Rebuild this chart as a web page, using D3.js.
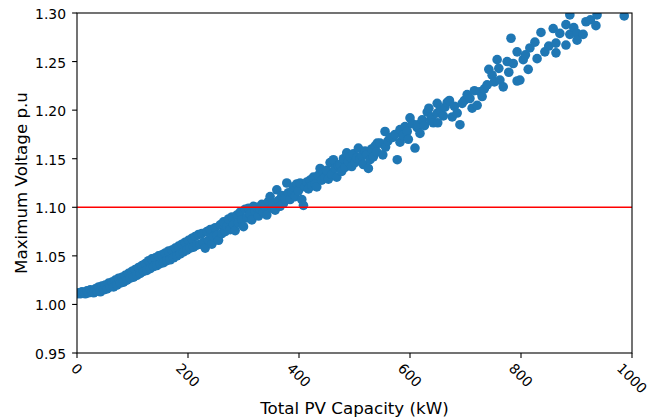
<!DOCTYPE html>
<html>
<head>
<meta charset="utf-8">
<script src="https://cdn.jsdelivr.net/npm/d3@7"></script>
<style>
  body { margin: 0; background: #fff; }
  text { font-family: "DejaVu Sans", sans-serif; fill: #000; }
</style>
</head>
<body>
<svg id="chart" width="647" height="417"></svg>
<script>
// values (kW, p.u.)
const pvCapacity = [
  0, 3, 6, 9, 12, 15, 18, 21, 24, 27, 30, 33, 36, 39, 42, 45, 48, 51, 54, 57, 60,
  63, 66, 69, 72, 75, 78, 81, 84, 87, 90, 93, 96, 99, 102, 105, 108, 111, 114, 117, 120, 123, 126, 129,
  132, 135, 138, 141, 144, 147, 150, 153, 156, 159, 162, 165, 168, 171, 174, 177, 180, 183, 186, 189,
  192, 195, 198, 201, 204, 207, 210, 213, 216, 219,
  222, 225, 228, 231, 234, 237, 240, 243, 246, 249, 252, 255, 258, 261, 264, 267, 270, 273, 276, 279,
  282, 285, 288, 291, 294, 297, 300, 303, 306,
  309, 312, 315, 318, 321, 324, 327, 330, 333, 336, 339, 342, 345, 348, 351, 354, 357, 360, 363, 366,
  369, 372, 375, 378, 381, 384, 387, 390, 393, 396, 399, 402, 405, 408, 411, 414, 417, 420, 423, 426,
  429, 432, 435, 438, 441, 444, 447, 450,
  453, 456, 459, 462, 465, 468, 471, 474, 477, 480, 483, 486, 489, 492, 495, 498, 501, 504, 507, 510,
  513, 516, 519, 522, 525, 528, 531, 534, 537, 540,
  541, 546, 551, 555, 556, 560, 564, 569, 573, 577, 582, 582, 587, 591, 595, 597, 600, 604, 609, 613,
  614, 618, 622, 626, 631, 634, 637, 640, 642, 649, 649, 650, 655, 660, 663, 667, 671, 676, 680, 685,
  690, 694, 698, 703, 708, 712, 716, 721, 726, 730, 734, 739, 742, 748, 752, 757, 760, 762, 768, 775,
  778, 782, 786, 793, 793, 798, 804, 808, 813, 816, 825, 829, 836, 843, 850, 858, 863, 863, 870, 881,
  881, 888, 888, 895, 901, 901, 912, 917, 925, 935, 937, 986
];
const maxVoltage = [
  1.011, 1.012, 1.011, 1.013, 1.012, 1.011, 1.014, 1.012, 1.015, 1.013, 1.012, 1.016, 1.014, 1.018, 1.013, 1.019, 1.015, 1.020, 1.016, 1.022, 1.018,
  1.023, 1.018, 1.025, 1.020, 1.027, 1.022, 1.028, 1.023, 1.030, 1.025, 1.032, 1.027, 1.034, 1.028, 1.036, 1.030, 1.038, 1.032, 1.040, 1.034, 1.042, 1.035, 1.045,
  1.037, 1.047, 1.039, 1.048, 1.040, 1.050, 1.042, 1.051, 1.043, 1.053, 1.045, 1.055, 1.046, 1.056, 1.048, 1.058, 1.050, 1.060, 1.052, 1.062,
  1.054, 1.064, 1.056, 1.066, 1.058, 1.068, 1.059, 1.070, 1.061, 1.072,
  1.062, 1.073, 1.064, 1.058, 1.075, 1.066, 1.077, 1.062, 1.070, 1.079, 1.071, 1.066, 1.082, 1.073, 1.085, 1.075, 1.080, 1.088, 1.077, 1.090,
  1.082, 1.076, 1.092, 1.084, 1.095, 1.087, 1.080, 1.098, 1.089,
  1.099, 1.093, 1.087, 1.101, 1.096, 1.100, 1.091, 1.098, 1.103, 1.095, 1.101, 1.092, 1.106, 1.111, 1.099, 1.104, 1.097, 1.118, 1.107, 1.101,
  1.112, 1.104, 1.109, 1.125, 1.115, 1.108, 1.115, 1.121, 1.111, 1.124, 1.117, 1.125, 1.108, 1.102, 1.121, 1.126, 1.119, 1.128, 1.122, 1.131,
  1.124, 1.121, 1.133, 1.140, 1.128, 1.136, 1.131, 1.138,
  1.129, 1.146, 1.134, 1.149, 1.140, 1.131, 1.143, 1.144, 1.137, 1.150, 1.141, 1.156, 1.147, 1.152, 1.142, 1.155, 1.146, 1.151, 1.161, 1.149,
  1.153, 1.144, 1.158, 1.154, 1.140, 1.149, 1.160, 1.152, 1.163, 1.157,
  1.166, 1.166, 1.154, 1.178, 1.162, 1.168, 1.172, 1.172, 1.175, 1.149, 1.167, 1.180, 1.174, 1.183, 1.178, 1.170, 1.192, 1.186, 1.161, 1.182,
  1.185, 1.176, 1.190, 1.184, 1.198, 1.202, 1.190, 1.193, 1.187, 1.207, 1.197, 1.187, 1.200, 1.194, 1.203, 1.208, 1.210, 1.193, 1.204, 1.197,
  1.185, 1.207, 1.210, 1.216, 1.212, 1.202, 1.220, 1.205, 1.219, 1.214, 1.222, 1.226, 1.242, 1.236, 1.229, 1.252, 1.243, 1.231, 1.224, 1.250,
  1.239, 1.274, 1.248, 1.230, 1.260, 1.231, 1.252, 1.257, 1.242, 1.264, 1.270, 1.253, 1.280, 1.260, 1.266, 1.284, 1.269, 1.259, 1.279, 1.288,
  1.267, 1.298, 1.278, 1.285, 1.279, 1.272, 1.278, 1.291, 1.293, 1.287, 1.298, 1.297
];
const xTicks = [0, 200, 400, 600, 800, 1000];
const yTicks = [0.95, 1.00, 1.05, 1.10, 1.15, 1.20, 1.25, 1.30];
const voltageLimit = 1.10;

const svg = d3.select("#chart");
const plotLeft = 77, plotRight = 632, plotTop = 13, plotBottom = 353;

const x = d3.scaleLinear().domain([0, 1000]).range([plotLeft, plotRight]);
const y = d3.scaleLinear().domain([0.95, 1.30]).range([plotBottom, plotTop]);

const points = pvCapacity.map((kw, i) => ({ kw, v: maxVoltage[i] }));

svg.append("clipPath").attr("id", "plot-clip")
  .append("rect")
  .attr("x", plotLeft).attr("y", plotTop)
  .attr("width", plotRight - plotLeft).attr("height", plotBottom - plotTop);

// scatter
svg.append("g")
  .attr("clip-path", "url(#plot-clip)")
  .selectAll("circle")
  .data(points)
  .join("circle")
  .attr("cx", d => x(d.kw))
  .attr("cy", d => y(d.v))
  .attr("r", 4.8)
  .attr("fill", "#1f77b4");

// limit line
svg.append("line")
  .attr("x1", plotLeft).attr("x2", plotRight)
  .attr("y1", y(voltageLimit)).attr("y2", y(voltageLimit))
  .attr("stroke", "#ff0000")
  .attr("stroke-width", 1.5);

// frame
svg.append("rect")
  .attr("x", plotLeft).attr("y", plotTop)
  .attr("width", plotRight - plotLeft).attr("height", plotBottom - plotTop)
  .attr("fill", "none")
  .attr("stroke", "#000")
  .attr("stroke-width", 1.1);

// y ticks
const yAxis = svg.append("g");
yTicks.forEach(t => {
  yAxis.append("line")
    .attr("x1", plotLeft - 4.9).attr("x2", plotLeft)
    .attr("y1", y(t)).attr("y2", y(t))
    .attr("stroke", "#000").attr("stroke-width", 1.1);
  yAxis.append("text")
    .text(t.toFixed(2))
    .attr("x", plotLeft - 11)
    .attr("y", y(t) + 6)
    .attr("font-size", 13.9)
    .attr("text-anchor", "end");
});

// x ticks, labels turned 45 degrees
const xAxis = svg.append("g");
xTicks.forEach(t => {
  xAxis.append("line")
    .attr("x1", x(t)).attr("x2", x(t))
    .attr("y1", plotBottom).attr("y2", plotBottom + 4.9)
    .attr("stroke", "#000").attr("stroke-width", 1.1);
  const label = xAxis.append("text")
    .text(t)
    .attr("font-size", 13.9)
    .attr("text-anchor", "middle")
    .attr("dy", "0.36em");
  const w = label.node().getComputedTextLength();
  const boxH = (w + 9) * Math.SQRT1_2;
  label.attr("transform", `translate(${x(t)},${plotBottom + 9.5 + boxH / 2}) rotate(45)`);
});

// axis titles
svg.append("text")
  .text("Total PV Capacity (kW)")
  .attr("x", (plotLeft + plotRight) / 2)
  .attr("y", 414)
  .attr("font-size", 16.7)
  .attr("text-anchor", "middle");

svg.append("text")
  .text("Maximum Voltage p.u")
  .attr("transform", `translate(27,${(plotTop + plotBottom) / 2}) rotate(-90)`)
  .attr("font-size", 16.7)
  .attr("text-anchor", "middle");
</script>
</body>
</html>
